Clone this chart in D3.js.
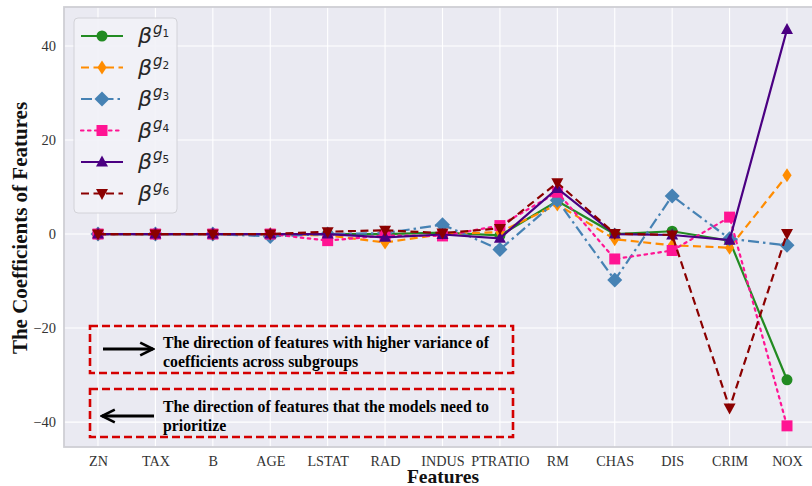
<!DOCTYPE html>
<html>
<head>
<meta charset="utf-8">
<script src="https://cdn.jsdelivr.net/npm/d3@7"></script>
<style>
html,body{margin:0;padding:0;background:#fff;}
svg{display:block;}
</style>
</head>
<body>
<svg id="chart" width="812" height="486"></svg>
<script>
const features = ["ZN","TAX","B","AGE","LSTAT","RAD","INDUS","PTRATIO","RM","CHAS","DIS","CRIM","NOX"];
const g1 = [0, 0, 0, 0, 0, 0, 0.3, -0.3, 7.0, 0, 0.6, -1.4, -31.0];
const g2 = [0, 0, 0, 0, -0.3, -1.8, 0, 0.4, 6.3, -1.1, -2.4, -2.9, 12.5];
const g3 = [0, 0, 0, -0.5, 0, 0.2, 2.0, -3.3, 7.2, -9.8, 8.1, -1.0, -2.4];
const g4 = [0, 0, 0, 0, -1.4, -0.3, -0.4, 1.8, 8.9, -5.3, -3.5, 3.6, -40.8];
const g5 = [0, 0, 0, 0, 0, -0.7, -0.1, -0.9, 9.7, 0, -0.2, -1.3, 43.5];
const g6 = [0, 0, 0, 0, 0.5, 0.8, 0.2, 1.2, 10.9, 0.1, -0.2, -37.0, 0.1];
const yTicks = [-40, -20, 0, 20, 40];
const seriesNames = ["1","2","3","4","5","6"];
const annotations = [
  ["The direction of features with higher variance of", "coefficients across subgroups"],
  ["The direction of features that the models need to", "prioritize"]
];

const series = [
  {v:g1, color:"#228B22", dash:null, marker:"circle"},
  {v:g2, color:"#FF8C00", dash:"8,4.5", marker:"thindiamond"},
  {v:g3, color:"#4682B4", dash:"11,4,2.5,4", marker:"diamond"},
  {v:g4, color:"#FF1493", dash:"2.5,4.5", marker:"square"},
  {v:g5, color:"#4B0082", dash:null, marker:"triup"},
  {v:g6, color:"#8B0000", dash:"8,4.5", marker:"tridown"}
];

const svg = d3.select("#chart");
const P = {left:64, right:821, top:7, bottom:447};

const x = d3.scalePoint().domain(features).range([98, 787]);
const y = d3.scaleLinear().domain([-45.3, 48.3]).range([P.bottom, P.top]);

const defs = svg.append("defs");
defs.append("clipPath").attr("id","clip").append("rect")
  .attr("x",P.left).attr("y",P.top).attr("width",P.right-P.left).attr("height",P.bottom-P.top);

// background
svg.append("rect").attr("x",P.left).attr("y",P.top).attr("width",P.right-P.left).attr("height",P.bottom-P.top)
  .attr("fill","#EAEAF2");

// grid
const grid = svg.append("g");
grid.selectAll("line.v").data(features).join("line")
  .attr("x1",d=>x(d)).attr("x2",d=>x(d)).attr("y1",P.top).attr("y2",P.bottom)
  .attr("stroke","#fff").attr("stroke-width",1.1);
grid.selectAll("line.h").data(yTicks).join("line")
  .attr("x1",P.left).attr("x2",P.right).attr("y1",d=>y(d)).attr("y2",d=>y(d))
  .attr("stroke","#fff").attr("stroke-width",1.1);

// frame
svg.append("rect").attr("x",P.left).attr("y",P.top).attr("width",P.right-P.left).attr("height",P.bottom-P.top)
  .attr("fill","none").attr("stroke","#cfcfd4").attr("stroke-width",1.8);

// axes
const xAxis = d3.axisBottom(x).tickSize(0).tickPadding(0);
const gx = svg.append("g").attr("transform",`translate(0,${P.bottom})`).call(xAxis);
gx.select(".domain").remove();
gx.selectAll("text").attr("y",9).attr("dy","0.71em")
  .attr("font-family","'Liberation Serif','Times New Roman',serif").attr("font-size",14.2).attr("fill","#333");

const yAxis = d3.axisLeft(y).tickValues(yTicks).tickSize(0).tickPadding(0)
  .tickFormat(d=> d<0 ? "\u2212"+Math.abs(d) : String(d));
const gy = svg.append("g").attr("transform",`translate(${P.left},0)`).call(yAxis);
gy.select(".domain").remove();
gy.selectAll("text").attr("x",-8)
  .attr("font-family","'Liberation Serif','Times New Roman',serif").attr("font-size",14.5).attr("fill","#333");

// axis titles
svg.append("text").attr("x",443).attr("y",483).attr("text-anchor","middle")
  .attr("font-family","'Liberation Serif','Times New Roman',serif").attr("font-weight","bold").attr("font-size",19.5)
  .attr("fill","#111").text("Features");
svg.append("text").attr("transform","translate(27,228) rotate(-90)").attr("text-anchor","middle")
  .attr("font-family","'Liberation Serif','Times New Roman',serif").attr("font-weight","bold").attr("font-size",21)
  .attr("fill","#111").text("The Coefficients of Features");

// markers
function markerPath(type){
  switch(type){
    case "circle": return d3.symbol(d3.symbolCircle, 95)();
    case "square": return "M-5.5,-5.5H5.5V5.5H-5.5Z";
    case "diamond": return "M0,-7.5L7.5,0L0,7.5L-7.5,0Z";
    case "thindiamond": return "M0,-7L4.6,0L0,7L-4.6,0Z";
    case "triup": return "M0,-6.5L6,4.5L-6,4.5Z";
    case "tridown": return "M0,6.5L6,-4.5L-6,-4.5Z";
  }
}

const plot = svg.append("g").attr("clip-path","url(#clip)");
const line = d3.line().x((d,i)=>x(features[i])).y(d=>y(d));
series.forEach(s=>{
  const g = plot.append("g");
  g.append("path").attr("d",line(s.v)).attr("fill","none").attr("stroke",s.color)
    .attr("stroke-width",2.2).attr("stroke-dasharray",s.dash)
    .attr("stroke-linecap", s.marker==="square" ? "round" : "butt");
  g.selectAll("path.m").data(s.v).join("path").attr("class","m")
    .attr("transform",(d,i)=>`translate(${x(features[i])},${y(d)})`)
    .attr("d",markerPath(s.marker)).attr("fill",s.color);
});

// legend
const L = svg.append("g");
L.append("rect").attr("x",74).attr("y",18).attr("width",103).attr("height",195).attr("rx",4)
  .attr("fill","#f2f2f7").attr("fill-opacity",0.9).attr("stroke","#d2d2d8").attr("stroke-width",1);
series.forEach((s,i)=>{
  const yy = 36 + i*31.5;
  L.append("line").attr("x1",81).attr("x2",123).attr("y1",yy).attr("y2",yy)
    .attr("stroke",s.color).attr("stroke-width",2.2).attr("stroke-dasharray",s.dash)
    .attr("stroke-linecap", s.marker==="square" ? "round" : "butt");
  L.append("path").attr("transform",`translate(102,${yy})`).attr("d",markerPath(s.marker)).attr("fill",s.color);
  const t = L.append("text").attr("x",138).attr("y",yy+7)
    .attr("font-family","'DejaVu Sans',sans-serif").attr("font-style","italic").attr("fill","#262626");
  t.append("tspan").attr("font-size",22).text("\u03b2");
  t.append("tspan").attr("font-size",15).attr("dx",1).attr("dy",-9).text("g");
  t.append("tspan").attr("font-size",10.5).attr("font-style","normal").attr("dy",3).text(seriesNames[i]);
});

// annotation boxes
const boxes = [{y0:326, y1:373, dir:1}, {y0:389, y1:437, dir:-1}];
defs.append("marker").attr("id","ah").attr("viewBox","0 0 10 10").attr("refX",9).attr("refY",5)
  .attr("markerWidth",5).attr("markerHeight",5).attr("orient","auto-start-reverse")
  .append("path").attr("d","M1,1L9,5L1,9").attr("fill","none").attr("stroke","#000").attr("stroke-width",1.6);
boxes.forEach((b,i)=>{
  const g = svg.append("g");
  g.append("rect").attr("x",90).attr("y",b.y0).attr("width",423).attr("height",b.y1-b.y0)
    .attr("fill","none").attr("stroke","#D40000").attr("stroke-width",2.6).attr("stroke-dasharray","8,4");
  const ay = i===0 ? 349 : 416;
  const xa = b.dir>0 ? 103 : 154, xb = b.dir>0 ? 153 : 102;
  g.append("line").attr("x1",xa).attr("x2",xb).attr("y1",ay).attr("y2",ay)
    .attr("stroke","#000").attr("stroke-width",3.2).attr("marker-end","url(#ah)");
  annotations[i].forEach((txt,j)=>{
    g.append("text").attr("x",163).attr("y",(i===0?348:412)+j*19)
      .attr("font-family","'Liberation Serif','Times New Roman',serif").attr("font-weight","bold")
      .attr("font-size",15.8).attr("fill","#000").text(txt);
  });
});
</script>
</body>
</html>
